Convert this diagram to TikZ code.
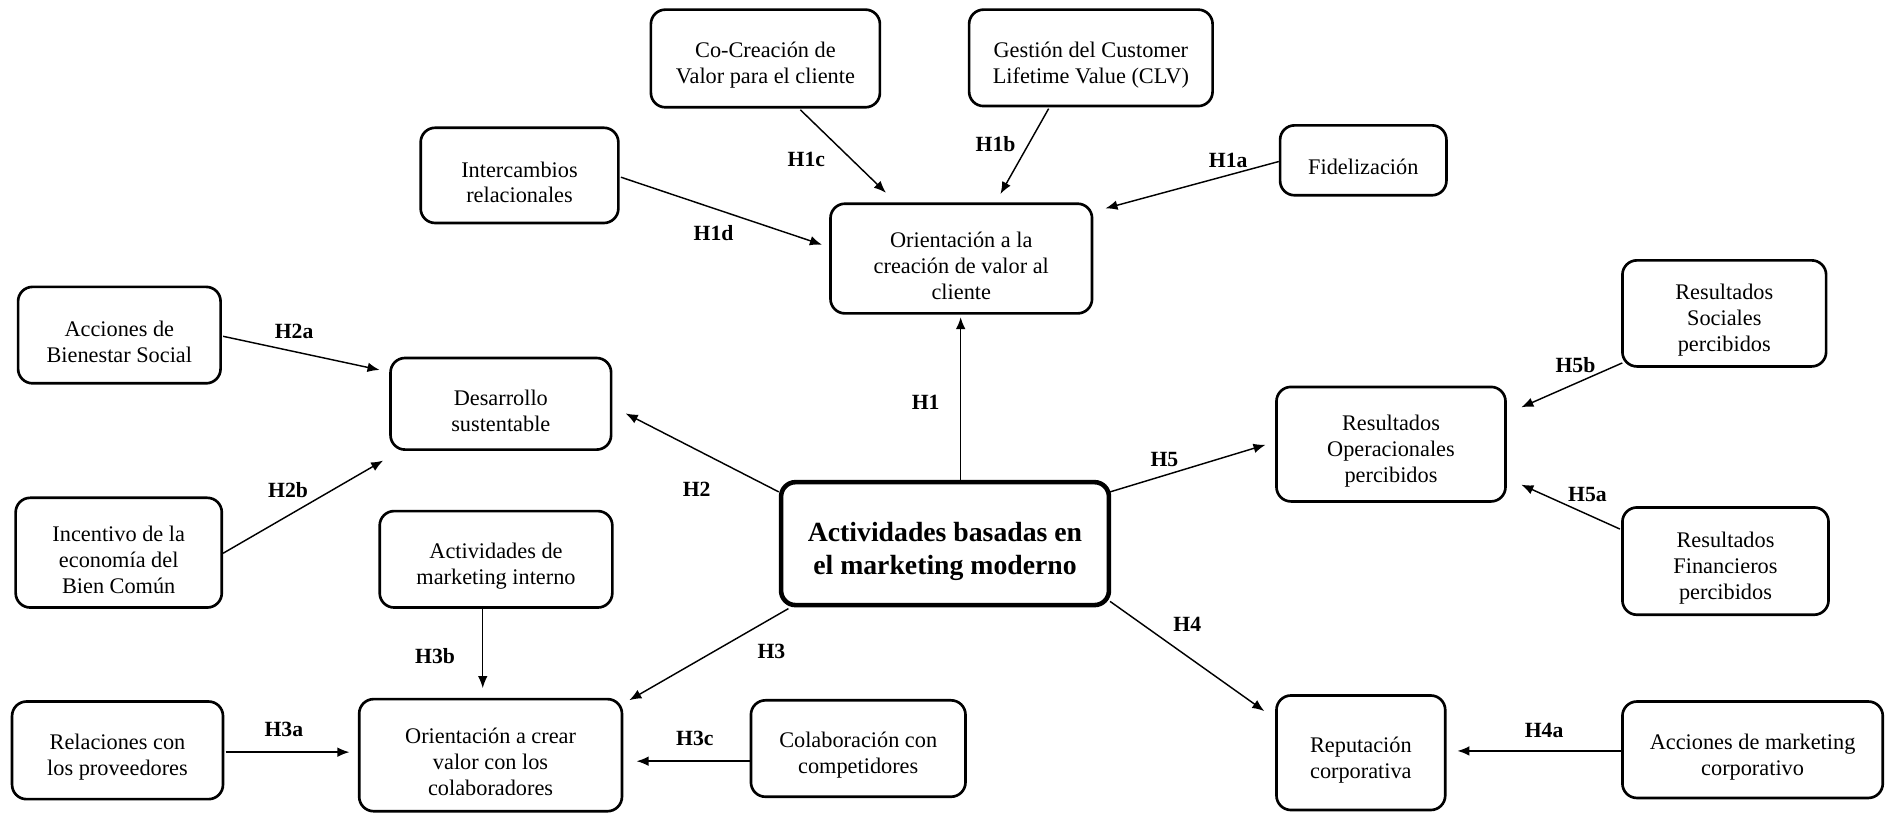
\documentclass[tikz,border=0pt]{standalone}
\usepackage{fontspec}
\setmainfont{Liberation Serif}
\usetikzlibrary{arrows.meta}
\newcommand\tst{\rule{0pt}{24.5pt}}
\newcommand\mst{\rule{0pt}{28.5pt}}
\tikzset{
  box/.style={draw, line width=2.2pt, rounded corners=12pt, align=center, inner sep=2pt,
    font=\fontsize{18.5}{21.5}\selectfont},
  mainbox/.style={box, line width=3.8pt, font=\fontsize{23}{27}\selectfont\bfseries},
  arr/.style={line width=1.2pt, -{Latex[length=10pt,width=8pt]}},
  lab/.style={font=\fontsize{18}{20}\selectfont\bfseries, inner sep=0pt}
}
\begin{document}
\begin{tikzpicture}[x=1pt,y=-1pt]
\useasboundingbox (0,0) rectangle (1568,675);
% boxes
\node[box, minimum width=190, minimum height=81] (cocre) at (635,48.5) {\tst Co-Creación de\\Valor para el cliente};
\node[box, minimum width=202, minimum height=80] (clv) at (905,48) {\tst Gestión del Customer\\Lifetime Value (CLV)};
\node[box, minimum width=164, minimum height=79] (inter) at (431,145.5) {\tst Intercambios\\relacionales};
\node[box, minimum width=138, minimum height=58] (fidel) at (1131,133) {\tst Fidelización};
\node[box, minimum width=217, minimum height=91] (orcli) at (797.5,214.5) {\tst Orientación a la\\creación de valor al\\cliente};
\node[box, minimum width=168, minimum height=80] (bien) at (99,278) {\tst Acciones de\\Bienestar Social};
\node[box, minimum width=183, minimum height=76] (desa) at (415.5,335) {\tst Desarrollo\\sustentable};
\node[box, minimum width=171, minimum height=91] (incen) at (98.5,458.5) {\tst Incentivo de la\\economía del\\Bien Común};
\node[box, minimum width=193, minimum height=80] (mkint) at (411.5,464) {\tst Actividades de\\marketing interno};
\node[mainbox, minimum width=272, minimum height=102] (central) at (784,451) {\mst Actividades basadas en\\el marketing moderno};
\node[box, minimum width=169, minimum height=88] (rsoc) at (1430.5,260) {\tst Resultados\\Sociales\\percibidos};
\node[box, minimum width=190, minimum height=95] (rop) at (1154,368.5) {\tst Resultados\\Operacionales\\percibidos};
\node[box, minimum width=171, minimum height=89] (rfin) at (1431.5,465.5) {\tst Resultados\\Financieros\\percibidos};
\node[box, minimum width=175, minimum height=81] (prov) at (97.5,622.5) {\tst Relaciones con\\los proveedores};
\node[box, minimum width=218, minimum height=93] (orcol) at (407,626.5) {\tst Orientación a crear\\valor con los\\colaboradores};
\node[box, minimum width=178, minimum height=80] (compe) at (712,621) {\tst Colaboración con\\competidores};
\node[box, minimum width=140, minimum height=95] (repu) at (1129,624.5) {\tst Reputación\\corporativa};
\node[box, minimum width=216, minimum height=80] (amc) at (1454,622) {\tst Acciones de marketing\\corporativo};
% arrows
\draw[arr] ([shift={(13,0)}]central.north) -- ([shift={(-0.5,2)}]orcli.south);
\draw[arr] ([shift={(0,10)}]central.north west) -- ([shift={(11,8)}]desa.east);
\draw[arr] ([shift={(8,1)}]central.south west) -- ([shift={(5,2)}]orcol.north east);
\draw[arr] ([shift={(-1,-5)}]central.south east) -- ([shift={(-9,14)}]repu.north west);
\draw[arr] ([shift={(-1,10)}]central.north east) -- ([shift={(-8,0.5)}]rop.west);
\draw[arr] ([shift={(0,1)}]fidel.west) -- ([shift={(10,5)}]orcli.north east);
\draw[arr] ([shift={(-35,1)}]clv.south) -- ([shift={(32.5,-7)}]orcli.north);
\draw[arr] ([shift={(29,1)}]cocre.south) -- ([shift={(-62.5,-8)}]orcli.north);
\draw[arr] ([shift={(1,1.5)}]inter.east) -- ([shift={(-6,-11.5)}]orcli.west);
\draw[arr] ([shift={(1,1)}]bien.east) -- ([shift={(-8,11)}]desa.north west);
\draw[arr] ([shift={(0,0.5)}]incen.east) -- ([shift={(-5,8)}]desa.south west);
\draw[arr] ([shift={(1,1.5)}]prov.east) -- ([shift={(-7,-2.5)}]orcol.west);
\draw[arr] ([shift={(-11,0)}]mkint.south) -- ([shift={(-6.5,-8)}]orcol.north);
\draw[arr] ([shift={(0,10.5)}]compe.west) -- ([shift={(11,5)}]orcol.east);
\draw[arr] ([shift={(0,1)}]amc.west) -- ([shift={(9,-1.5)}]repu.east);
\draw[arr] ([shift={(-1,19)}]rfin.north west) -- ([shift={(12,-15)}]rop.south east);
\draw[arr] ([shift={(1,-4)}]rsoc.south west) -- ([shift={(12,18)}]rop.north east);
% labels
\node[lab] (l1) at (768,334) {H1};
\node[lab] (l2) at (578,406) {H2};
\node[lab] (l3) at (640,540.5) {H3};
\node[lab] (l4) at (985,518) {H4};
\node[lab] (l5) at (966,381) {H5};
\node[lab] (l1a) at (1019,133) {H1a};
\node[lab] (l1b) at (826,119.5) {H1b};
\node[lab] (l1c) at (669,132) {H1c};
\node[lab] (l1d) at (592,193.5) {H1d};
\node[lab] (l2a) at (244,275) {H2a};
\node[lab] (l2b) at (239,406.5) {H2b};
\node[lab] (l3a) at (235.5,605.5) {H3a};
\node[lab] (l3b) at (361,544) {H3b};
\node[lab] (l3c) at (576.5,613) {H3c};
\node[lab] (l4a) at (1281,606) {H4a};
\node[lab] (l5a) at (1317,410) {H5a};
\node[lab] (l5b) at (1307,303) {H5b};
\end{tikzpicture}
\end{document}
